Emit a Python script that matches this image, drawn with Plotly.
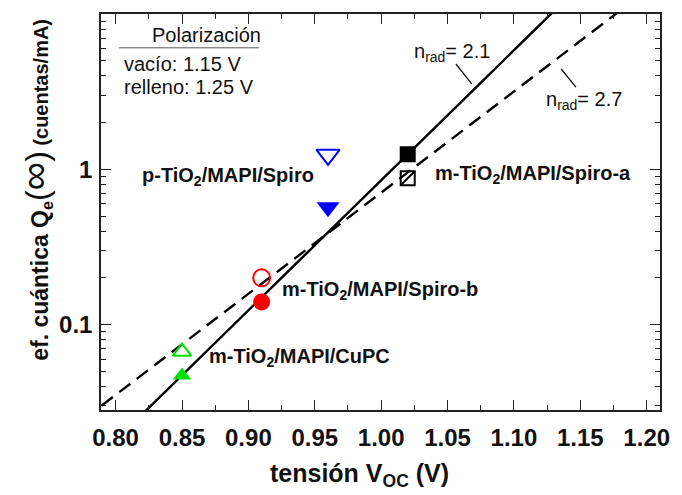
import numpy as np
import plotly.graph_objects as go

# Open-circuit voltage (V) and quantum efficiency Qe(inf) (counts/mA) per device
devices = ["p-TiO2/MAPI/Spiro", "m-TiO2/MAPI/Spiro-a", "m-TiO2/MAPI/Spiro-b", "m-TiO2/MAPI/CuPC"]
voc = [0.96, 1.02, 0.91, 0.85]
qe_vacio = [1.24, 0.876, 0.20, 0.067]     # polarización 1.15 V (open symbols)
qe_relleno = [0.57, 1.25, 0.14, 0.047]    # polarización 1.25 V (filled symbols)
colors = ["#0000ff", "#000000", "#ff0000", "#00e000"]
sym_open = ["triangle-down-open", "square-open", "circle-open", "triangle-up-open"]
sym_fill = ["triangle-down", "square", "circle", "triangle-up"]
sizes = [20, 14, 17, 16]
sizes_fill = [20, 16, 17, 16]

# Ideality-factor reference lines: Q = Q_ref * exp((V - V_ref) / (n * Vt))
vt = 0.0247
v_ref = 1.02
n_rad = [2.1, 2.7]
q_ref = [1.25, 0.955]
line_dash = ["solid", "14px,8px"]

x_ticks = [0.80, 0.85, 0.90, 0.95, 1.00, 1.05, 1.10, 1.15, 1.20]

FONT = "Liberation Sans, Arial, sans-serif"

fig = go.Figure()

v_line = np.linspace(0.75, 1.25, 200)
for n, q0, dash in zip(n_rad, q_ref, line_dash):
    fig.add_trace(go.Scatter(
        x=v_line, y=q0 * np.exp((v_line - v_ref) / (n * vt)),
        mode="lines", line=dict(color="black", width=2.4, dash=dash),
        hoverinfo="skip", showlegend=False))

for i in range(len(devices)):
    fig.add_trace(go.Scatter(
        x=[voc[i]], y=[qe_vacio[i]], mode="markers",
        marker=dict(symbol=sym_open[i], size=sizes[i], color=colors[i],
                    line=dict(color=colors[i], width=2)),
        showlegend=False))
    if sym_open[i] == "square-open":
        fig.add_trace(go.Scatter(
            x=[voc[i]], y=[qe_vacio[i]], mode="markers",
            marker=dict(symbol="line-ne", size=sizes[i], color=colors[i],
                        line=dict(color=colors[i], width=2)),
            showlegend=False))
    fig.add_trace(go.Scatter(
        x=[voc[i]], y=[qe_relleno[i]], mode="markers",
        marker=dict(symbol=sym_fill[i], size=sizes_fill[i], color=colors[i],
                    line=dict(width=0)),
        showlegend=False))

axis_common = dict(
    showgrid=False, zeroline=False, showline=True, linecolor="#222", linewidth=1.5,
    mirror="allticks", ticks="inside", ticklen=10, tickwidth=1.3, tickcolor="#222",
    tickfont=dict(family=FONT, size=24, color="#111", weight="bold"),
)

fig.update_xaxes(
    range=[0.789, 1.21], tickvals=x_ticks, ticktext=[f"{t:.2f}" for t in x_ticks],
    minor=dict(dtick=0.025, tick0=0.8, ticks="inside", ticklen=5, tickwidth=1.3,
               tickcolor="#222", showgrid=False),
    ticklabelstandoff=5, **axis_common)
fig.update_yaxes(
    type="log", range=[np.log10(0.0282), 1.0], tickvals=[0.1, 1], ticktext=["0.1", "1"],
    minor=dict(dtick="D1", ticks="inside", ticklen=5, tickwidth=1.3,
               tickcolor="#222", showgrid=False),
    ticklabelstandoff=2, **axis_common)

ann = []
label_font = dict(family=FONT, size=20, color="#111", weight="bold")
# device labels (x in V, y as log10 of Qe)
ann.append(dict(x=0.9508, y=-0.047, text="p-TiO<sub>2</sub>/MAPI/Spiro",
                xanchor="right", yanchor="middle", font=label_font))
ann.append(dict(x=1.0392, y=-0.034, text="m-TiO<sub>2</sub>/MAPI/Spiro-a",
                xanchor="left", yanchor="middle", font=label_font))
ann.append(dict(x=0.9241, y=-0.782, text="m-TiO<sub>2</sub>/MAPI/Spiro-b",
                xanchor="left", yanchor="middle", font=label_font))
ann.append(dict(x=0.8691, y=-1.211, text="m-TiO<sub>2</sub>/MAPI/CuPC",
                xanchor="left", yanchor="middle", font=label_font))
# ideality labels
nfont = dict(family=FONT, size=20, color="#111")
ann.append(dict(x=1.0533, y=0.753, text=f"n<sub>rad</sub>= {n_rad[0]}",
                xanchor="center", yanchor="middle", font=nfont))
ann.append(dict(x=1.1529, y=0.446, text=f"n<sub>rad</sub>= {n_rad[1]}",
                xanchor="center", yanchor="middle", font=nfont))
for a in ann:
    a.update(xref="x", yref="y", showarrow=False)

# polarization box
pfont = dict(family=FONT, size=20, color="#111")
ann.append(dict(xref="paper", yref="paper", x=0.088, y=0.947, text="Polarización",
                xanchor="left", yanchor="middle", showarrow=False, font=pfont))
ann.append(dict(xref="paper", yref="paper", x=0.037, y=0.874, text="vacío: 1.15 V",
                xanchor="left", yanchor="middle", showarrow=False, font=pfont))
ann.append(dict(xref="paper", yref="paper", x=0.037, y=0.8166, text="relleno: 1.25 V",
                xanchor="left", yanchor="middle", showarrow=False, font=pfont))

# axis titles
ann.append(dict(xref="paper", yref="paper", x=0.463, y=-0.165,
                text="tensión V<sub>OC</sub> (V)", xanchor="center", yanchor="middle",
                showarrow=False, font=dict(family=FONT, size=25, color="#111", weight="bold")))
ann.append(dict(xref="paper", yref="paper", x=0, xshift=-67, y=0.556,
                text=("<b>ef. cuántica Q<sub>e</sub></b>"
                      "<span style='font-size:32px'>(</span>"
                      "<span style='font-size:40px'>∞</span>"
                      "<span style='font-size:32px'>)</span>"
                      "<b><span style='font-size:20px'> (cuentas/mA)</span></b>"),
                textangle=-90, xanchor="center", yanchor="middle", showarrow=False,
                font=dict(family=FONT, size=23, color="#111")))

shapes = [
    dict(type="line", xref="paper", yref="paper", x0=0.032, x1=0.283, y0=0.9146, y1=0.9146,
         line=dict(color="#555", width=1)),
    dict(type="line", xref="x", yref="y", x0=1.0563, y0=10**0.678, x1=1.0682, y1=10**0.550,
         line=dict(color="#111", width=1.3)),
    dict(type="line", xref="x", yref="y", x0=1.1356, y0=10**0.646, x1=1.1467, y1=10**0.529,
         line=dict(color="#111", width=1.3)),
]

fig.update_layout(
    width=682, height=495,
    margin=dict(l=101, r=15, t=12, b=85),
    plot_bgcolor="white", paper_bgcolor="white",
    annotations=ann, shapes=shapes,
    font=dict(family=FONT),
)

fig.write_html("out.html")
